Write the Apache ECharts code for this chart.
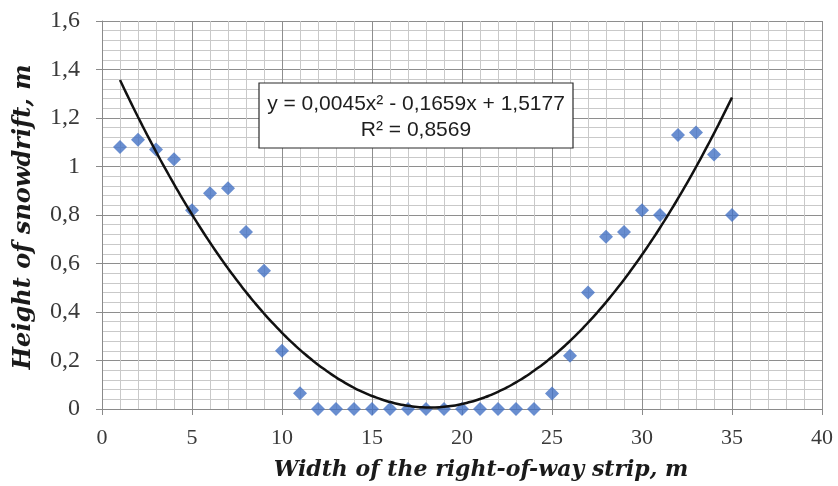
<!DOCTYPE html>
<html>
<head>
<meta charset="utf-8">
<script src="https://cdn.jsdelivr.net/npm/echarts@6/dist/echarts.min.js"></script>
<style>
  html, body { margin: 0; padding: 0; background: #fff; }
  #chart { width: 838px; height: 486px; }
</style>
</head>
<body>
<div id="chart"></div>
<script>
// Measured snowdrift heights across the right-of-way strip
const widthM = [1, 2, 3, 4, 5, 6, 7, 8, 9, 10, 11, 12, 13, 14, 15, 16, 17, 18,
  19, 20, 21, 22, 23, 24, 25, 26, 27, 28, 29, 30, 31, 32, 33, 34, 35];
const heightM = [1.08, 1.11, 1.07, 1.03, 0.82, 0.89, 0.91, 0.73, 0.57, 0.24, 0.065,
  0, 0, 0, 0, 0, 0, 0, 0, 0, 0, 0, 0, 0,
  0.064, 0.22, 0.48, 0.71, 0.73, 0.82, 0.80, 1.13, 1.14, 1.05, 0.80];

// Axis settings and captions
const xTicks = [0, 5, 10, 15, 20, 25, 30, 35, 40];
const yTicks = [0, 0.2, 0.4, 0.6, 0.8, 1, 1.2, 1.4, 1.6];
const xTitle = 'Width of the right-of-way strip, m';
const yTitle = 'Height of snowdrift, m';
const trendText = ['y = 0,0045x\u00B2 - 0,1659x + 1,5177', 'R\u00B2 = 0,8569'];

// Second-order least-squares polynomial trendline through the measurements
function quadFit(xs, ys) {
  const n = xs.length;
  const s = [0, 0, 0, 0, 0], t = [0, 0, 0];
  for (let i = 0; i < n; i++) {
    const x = xs[i], y = ys[i];
    let p = 1;
    for (let k = 0; k < 5; k++) { s[k] += p; if (k < 3) t[k] += p * y; p *= x; }
  }
  // Normal equations: [[s4 s3 s2],[s3 s2 s1],[s2 s1 s0]] [a b c] = [t2 t1 t0]
  const M = [[s[4], s[3], s[2], t[2]], [s[3], s[2], s[1], t[1]], [s[2], s[1], s[0], t[0]]];
  for (let i = 0; i < 3; i++) {
    for (let j = i + 1; j < 3; j++) {
      const f = M[j][i] / M[i][i];
      for (let k = i; k < 4; k++) M[j][k] -= f * M[i][k];
    }
  }
  const r = [0, 0, 0];
  for (let i = 2; i >= 0; i--) {
    let v = M[i][3];
    for (let k = i + 1; k < 3; k++) v -= M[i][k] * r[k];
    r[i] = v / M[i][i];
  }
  return r; // [a, b, c]
}
const [qa, qb, qc] = quadFit(widthM, heightM);
const xFirst = widthM[0], xLast = widthM[widthM.length - 1];
const trendPts = [];
for (let x = xFirst; x <= xLast + 1e-9; x += 0.25) {
  trendPts.push([x, qa * x * x + qb * x + qc]);
}

const scatterData = widthM.map((x, i) => [x, heightM[i]]);

const chart = echarts.init(document.getElementById('chart'), null, { renderer: 'canvas' });
const serif = '"Liberation Serif", "Times New Roman", serif';
const titleFont = '"DejaVu Serif", serif';
const gridL = 102, gridR = 16, gridT = 21, gridB = 77;

chart.setOption({
  animation: false,
  backgroundColor: '#ffffff',
  grid: { left: gridL, right: gridR, top: gridT, bottom: gridB },
  xAxis: {
    type: 'value',
    min: xTicks[0], max: xTicks[xTicks.length - 1], interval: xTicks[1] - xTicks[0],
    axisLine: { show: true, lineStyle: { color: '#8a8a8a', width: 1 } },
    axisTick: { show: true, length: 6, lineStyle: { color: '#8a8a8a' } },
    minorTick: { show: false, splitNumber: 5 },
    splitLine: { show: true, lineStyle: { color: '#8e8e8e', width: 1 } },
    minorSplitLine: { show: true, lineStyle: { color: '#c9c9c9', width: 1 } },
    axisLabel: { color: '#3a3a3a', fontFamily: serif, fontSize: 22, margin: 18 }
  },
  yAxis: {
    type: 'value',
    min: yTicks[0], max: yTicks[yTicks.length - 1], interval: 0.2,
    axisLine: { show: true, lineStyle: { color: '#8a8a8a', width: 1 } },
    axisTick: { show: true, length: 6, lineStyle: { color: '#8a8a8a' } },
    minorTick: { show: false, splitNumber: 5 },
    splitLine: { show: true, lineStyle: { color: '#8e8e8e', width: 1 } },
    minorSplitLine: { show: true, lineStyle: { color: '#c9c9c9', width: 1 } },
    axisLabel: {
      color: '#3a3a3a', fontFamily: serif, fontSize: 24, margin: 22,
      formatter: v => String(Math.round(v * 10) / 10).replace('.', ',')
    }
  },
  graphic: [
    {
      type: 'text', x: 481, y: 470,
      style: {
        text: xTitle, x: 0, y: 0, align: 'center', verticalAlign: 'middle',
        font: 'italic bold 22px ' + titleFont, fill: '#1a1a1a'
      }
    },
    {
      type: 'text', rotation: Math.PI / 2, x: 24, y: 217,
      style: {
        text: yTitle, x: 0, y: 0, align: 'center', verticalAlign: 'middle',
        font: 'italic bold 24px ' + titleFont, fill: '#1a1a1a'
      }
    },
    {
      type: 'rect', x: 259, y: 83, z: 100,
      shape: { x: 0, y: 0, width: 314, height: 65 },
      style: { fill: '#ffffff', stroke: '#2b2b2b', lineWidth: 1.2 }
    },
    {
      type: 'text', x: 416, y: 117, z: 101,
      style: {
        text: trendText.join('\n'), x: 0, y: 0, align: 'center', verticalAlign: 'middle',
        font: '21px "Liberation Sans", Arial, sans-serif', lineHeight: 26, fill: '#1e1e1e'
      }
    }
  ],
  series: [
    {
      name: 'Height', type: 'scatter', data: scatterData,
      symbol: 'diamond', symbolSize: 14,
      itemStyle: { color: '#4472C4' }, z: 3
    },
    {
      name: 'Trend', type: 'line', data: trendPts, showSymbol: false, smooth: true,
      lineStyle: { color: '#111111', width: 2.5 }, z: 4
    }
  ]
});
</script>
</body>
</html>
